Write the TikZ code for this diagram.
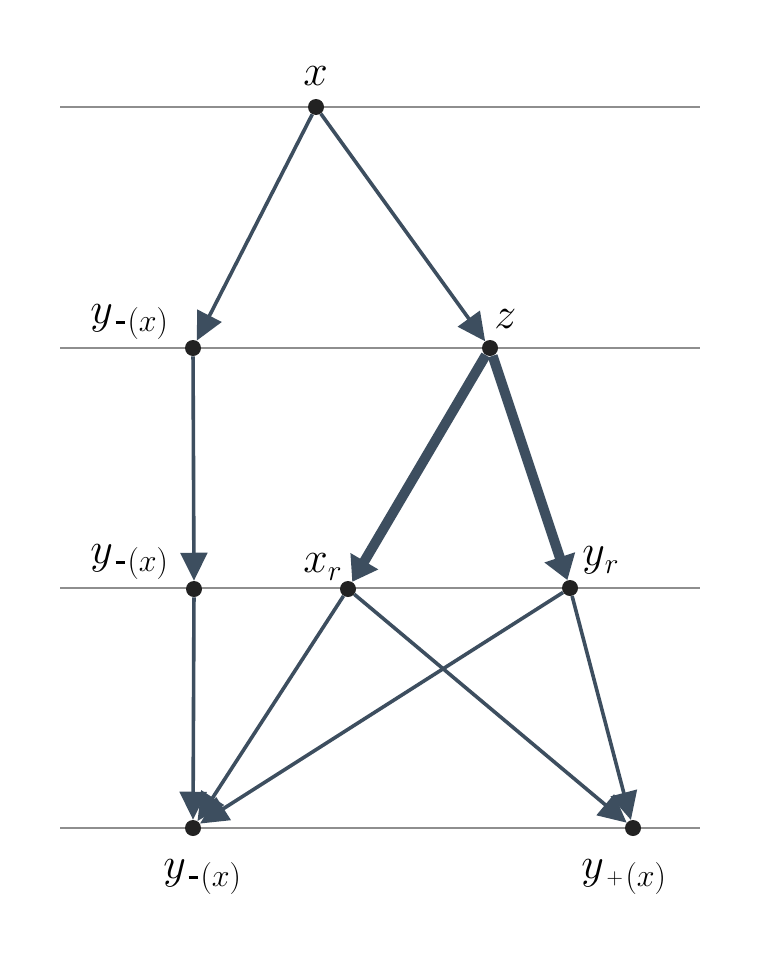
\RequirePackage{fix-cm}
\documentclass[tikz,border=0pt]{standalone}
\usetikzlibrary{arrows.meta}
\definecolor{edgec}{HTML}{3D4E5F}
\definecolor{rulec}{HTML}{8E8E8E}
\definecolor{dotc}{HTML}{222222}
\newcommand\ylab[1]{$y$\hspace{2pt}\raisebox{-6.5pt}{\fontsize{24}{28}\selectfont #1\hspace{2pt}$(x)$}}
\newcommand\minusbar{\rule[5.5pt]{7pt}{2.4pt}}
\newcommand\plussign{\raisebox{1.5pt}{\fontsize{17}{19}\selectfont$\mathbf{+}$}}
\begin{document}
\begin{tikzpicture}[x=0.75pt,y=-0.75pt,
  dot/.style={circle,fill=dotc,inner sep=0pt,minimum size=12pt},
  levelline/.style={draw=rulec,line width=1.1pt},
  edge/.style={draw=edgec,line width=2.7pt,-{Triangle[length=21pt,width=20pt]}},
  thickedge/.style={draw=edgec,line width=7.5pt,-{Triangle[length=18pt,width=23pt]}},
  lbl/.style={font=\fontsize{33}{38}\selectfont, inner sep=0pt}]
\useasboundingbox (0,0) rectangle (760,960);
% level lines
\draw[levelline] (60,107) -- (700,107);
\draw[levelline] (60,348) -- (700,348);
\draw[levelline] (60,588) -- (700,588);
\draw[levelline] (60,828) -- (700,828);
% dots
\node[dot] (x)  at (316,107) {};
\node[dot] (y1) at (193,348) {};
\node[dot] (z)  at (490,348) {};
\node[dot] (y2) at (194,589) {};
\node[dot] (xr) at (348,589) {};
\node[dot] (yr) at (570,588) {};
\node[dot] (y3) at (193,828) {};
\node[dot] (yp) at (633,828) {};
% labels
\node[lbl,anchor=base west] (lx)  at (303,85)  {$x$};
\node[lbl,anchor=base west] (lz)  at (494,328) {$z$};
\node[lbl,anchor=base west] (ly1) at (90,323)  {\ylab{\minusbar}};
\node[lbl,anchor=base west] (ly2) at (90,563)  {\ylab{\minusbar}};
\node[lbl,anchor=base west] (lxr) at (303,572) {$x$\raisebox{-6pt}{\fontsize{22}{26}\selectfont$r$}};
\node[lbl,anchor=base west] (lyr) at (582,565) {$y$\raisebox{-6.5pt}{\fontsize{22}{26}\selectfont$r$}};
\node[lbl,anchor=base west] (ly3) at (163,878) {\ylab{\minusbar}};
\node[lbl,anchor=base west] (lyp) at (581,878) {\ylab{\plussign}};
% edges
\draw[edge] (x) -- (y1);
\draw[edge] (x) -- (z);
\draw[edge] (y1) -- (y2);
\draw[edge] (y2) -- (y3);
\draw[thickedge] (z) -- (xr);
\draw[thickedge] (z) -- (yr);
\draw[edge] (xr) -- (y3);
\draw[edge] (xr) -- (yp);
\draw[edge] (yr) -- (y3);
\draw[edge] (yr) -- (yp);
\end{tikzpicture}
\end{document}
